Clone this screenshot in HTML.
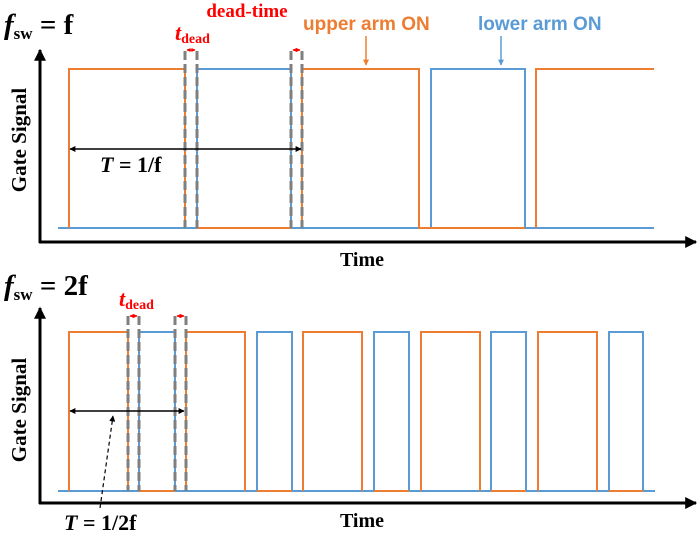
<!DOCTYPE html>
<html><head><style>body{margin:0;background:#fff}svg{display:block}</style></head><body>
<svg width="700" height="534" viewBox="0 0 700 534" xmlns="http://www.w3.org/2000/svg">
<defs>
<marker id="ak" viewBox="0 0 10 10" refX="9" refY="5" markerWidth="14" markerHeight="12" markerUnits="userSpaceOnUse" orient="auto-start-reverse"><path d="M0,0L10,5L0,10z" fill="#000"/></marker>
<marker id="ab" viewBox="0 0 10 10" refX="9" refY="5" markerWidth="7" markerHeight="6" markerUnits="userSpaceOnUse" orient="auto-start-reverse"><path d="M0,0L10,5L0,10z" fill="#000"/></marker>
<marker id="ar" viewBox="0 0 10 10" refX="9" refY="5" markerWidth="4" markerHeight="5" markerUnits="userSpaceOnUse" orient="auto-start-reverse"><path d="M0,0L10,5L0,10z" fill="#f00"/></marker>
<marker id="ao" viewBox="0 0 10 10" refX="9" refY="5" markerWidth="7" markerHeight="6" markerUnits="userSpaceOnUse" orient="auto"><path d="M0,0L10,5L0,10z" fill="#ed7d31"/></marker>
<marker id="au" viewBox="0 0 10 10" refX="9" refY="5" markerWidth="7" markerHeight="6" markerUnits="userSpaceOnUse" orient="auto"><path d="M0,0L10,5L0,10z" fill="#5b9bd5"/></marker>
</defs>
<g font-family="Liberation Serif, serif" font-weight="bold">
<!-- top panel -->
<text x="4" y="34" font-size="29"><tspan font-style="italic">f</tspan><tspan font-size="17" dy="5">sw</tspan><tspan dy="-5"> = f</tspan></text>
<line x1="40" y1="243" x2="40" y2="50" stroke="#000" stroke-width="3" marker-end="url(#ak)"/>
<line x1="39" y1="242" x2="696" y2="242" stroke="#000" stroke-width="3" marker-end="url(#ak)"/>
<text transform="translate(26,140) rotate(-90)" text-anchor="middle" font-size="21">Gate Signal</text>
<text x="362" y="266" text-anchor="middle" font-size="20">Time</text>
<polyline fill="none" stroke="#5b9bd5" stroke-width="2" points="58,228 197,228 197,69 291,69 291,228 431,228 431,69 525,69 525,228 654,228"/>
<g fill="none" stroke="#ed7d31" stroke-width="2">
<polyline points="69,228 69,69 185,69 185,228"/>
<polyline points="197,228 291,228"/>
<polyline points="302,228 302,69 419,69 419,228 431,228"/>
<polyline points="431,228 525,228"/>
<polyline points="536,228 536,69 654,69"/>
</g>
<g stroke="#7f7f7f" stroke-width="3" stroke-dasharray="9,4">
<line x1="185" y1="51" x2="185" y2="228"/><line x1="197" y1="51" x2="197" y2="228"/>
<line x1="291" y1="51" x2="291" y2="228"/><line x1="302" y1="51" x2="302" y2="228"/>
</g>
<line x1="187" y1="50" x2="195" y2="50" stroke="#f00" stroke-width="1.5" marker-start="url(#ar)" marker-end="url(#ar)"/>
<line x1="293" y1="50" x2="300" y2="50" stroke="#f00" stroke-width="1.5" marker-start="url(#ar)" marker-end="url(#ar)"/>
<line x1="70" y1="149" x2="301" y2="149" stroke="#000" stroke-width="1.5" marker-start="url(#ab)" marker-end="url(#ab)"/>
<text x="100" y="172" font-size="22"><tspan font-style="italic">T</tspan> = 1/f</text>
<text x="247" y="17" text-anchor="middle" font-size="19" fill="#f00">dead-time</text>
<text x="175" y="40" font-size="22" fill="#f00" font-style="italic">t<tspan font-style="normal" font-size="14" dy="3">dead</tspan></text>
<text x="303" y="30" font-family="Liberation Sans, sans-serif" font-size="19" fill="#ed7d31">upper arm ON</text>
<text x="478" y="30" font-family="Liberation Sans, sans-serif" font-size="19" fill="#5b9bd5">lower arm ON</text>
<line x1="366" y1="36" x2="366" y2="65" stroke="#ed7d31" stroke-width="1.5" marker-end="url(#ao)"/>
<line x1="501" y1="36" x2="501" y2="65" stroke="#5b9bd5" stroke-width="1.5" marker-end="url(#au)"/>
<!-- bottom panel -->
<text x="4" y="295" font-size="29"><tspan font-style="italic">f</tspan><tspan font-size="17" dy="5">sw</tspan><tspan dy="-5"> = 2f</tspan></text>
<line x1="40" y1="504" x2="40" y2="308" stroke="#000" stroke-width="3" marker-end="url(#ak)"/>
<line x1="39" y1="503" x2="696" y2="503" stroke="#000" stroke-width="3" marker-end="url(#ak)"/>
<text transform="translate(26,410) rotate(-90)" text-anchor="middle" font-size="21">Gate Signal</text>
<text x="362" y="527" text-anchor="middle" font-size="20">Time</text>
<polyline fill="none" stroke="#5b9bd5" stroke-width="2" points="58,491 139,491 139,332 175,332 175,491 257,491 257,332 292,332 292,491 374,491 374,332 409,332 409,491 491,491 491,332 526,332 526,491 609,491 609,332 643,332 643,491 655,491"/>
<g fill="none" stroke="#ed7d31" stroke-width="2">
<polyline points="69,491 69,332 128,332 128,491"/>
<polyline points="139,491 175,491"/>
<polyline points="186,491 186,332 245,332 245,491"/>
<polyline points="257,491 292,491"/>
<polyline points="303,491 303,332 362,332 362,491"/>
<polyline points="374,491 409,491"/>
<polyline points="421,491 421,332 480,332 480,491"/>
<polyline points="491,491 526,491"/>
<polyline points="538,491 538,332 597,332 597,491"/>
<polyline points="609,491 643,491"/>
</g>
<g stroke="#7f7f7f" stroke-width="3" stroke-dasharray="9,4">
<line x1="128" y1="316" x2="128" y2="491"/><line x1="139" y1="316" x2="139" y2="491"/>
<line x1="175" y1="316" x2="175" y2="491"/><line x1="186" y1="316" x2="186" y2="491"/>
</g>
<line x1="130" y1="316" x2="137" y2="316" stroke="#f00" stroke-width="1.5" marker-start="url(#ar)" marker-end="url(#ar)"/>
<line x1="177" y1="316" x2="184" y2="316" stroke="#f00" stroke-width="1.5" marker-start="url(#ar)" marker-end="url(#ar)"/>
<line x1="70" y1="411" x2="184" y2="411" stroke="#000" stroke-width="1.5" marker-start="url(#ab)" marker-end="url(#ab)"/>
<line x1="100" y1="508" x2="113" y2="416" stroke="#000" stroke-width="1.2" stroke-dasharray="4,3" marker-end="url(#ab)"/>
<text x="64" y="530" font-size="22"><tspan font-style="italic">T</tspan> = 1/2f</text>
<text x="119" y="306" font-size="22" fill="#f00" font-style="italic">t<tspan font-style="normal" font-size="14" dy="3">dead</tspan></text>
</g>
</svg>
</body></html>
